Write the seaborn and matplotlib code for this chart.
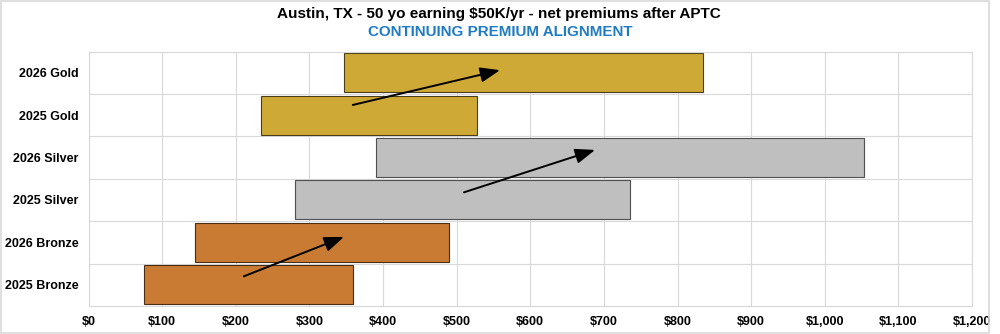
import matplotlib
matplotlib.use("Agg")
import matplotlib.pyplot as plt
from matplotlib.ticker import FuncFormatter, MultipleLocator, FixedLocator
from matplotlib.patches import Rectangle
import seaborn as sns
import pandas as pd

# Net monthly premium range (lowest to highest plan) per metal tier and year
plans = ["2026 Gold", "2025 Gold", "2026 Silver", "2025 Silver", "2026 Bronze", "2025 Bronze"]
low = [347, 234, 390, 281, 145, 75]
high = [834, 527, 1053, 736, 489, 359]
tier_colors = ["#CFA935", "#CFA935", "#BFBFBF", "#BFBFBF", "#C97B33", "#C97B33"]
tier_edges = ["#4A3D1A", "#4A3D1A", "#505050", "#505050", "#4A2E14", "#4A2E14"]

df = pd.DataFrame({"plan": plans, "low": low, "high": high})
df["span"] = df["high"] - df["low"]

sns.set_theme(style="white")
plt.rcParams["font.family"] = ["Liberation Sans", "DejaVu Sans"]

fig = plt.figure(figsize=(10, 3.34), dpi=100)
ax = fig.add_axes([0.0885, 0.0838, 0.8835, 0.762])

sns.barplot(data=df, x="span", y="plan", order=plans, left=df["low"].values,
            color=tier_colors[0], saturation=1, width=0.92, ax=ax,
            linewidth=0.8, zorder=2)
for patch, fc, ec in zip(ax.patches, tier_colors, tier_edges):
    patch.set_facecolor(fc)
    patch.set_edgecolor(ec)

ax.set_xlim(0, 1200)
ax.set_ylim(5.5, -0.5)
ax.xaxis.set_major_locator(MultipleLocator(100))
ax.xaxis.set_major_formatter(FuncFormatter(lambda v, _: f"${v:,.0f}"))
ax.yaxis.set_minor_locator(FixedLocator([i - 0.5 for i in range(len(plans) + 1)]))
ax.grid(axis="x", which="major", color="#D9D9D9", linewidth=0.8, zorder=0)
ax.grid(axis="y", which="minor", color="#D9D9D9", linewidth=0.8, zorder=0)
ax.grid(axis="y", which="major", visible=False)
ax.set_axisbelow(True)
for s in ax.spines.values():
    s.set_color("#D9D9D9")
    s.set_linewidth(0.8)
ax.tick_params(axis="both", which="both", length=0, labelsize=9, pad=7)
for lab in ax.get_xticklabels() + ax.get_yticklabels():
    lab.set_fontweight("bold")
    lab.set_color("black")
ax.set_xlabel("")
ax.set_ylabel("")

# Arrows showing the year-over-year shift of each tier
shifts = [((359, 0.76), (559, -0.06)),
          ((510, 2.82), (688, 1.82)),
          ((211, 4.80), (347, 3.87))]
for start, end in shifts:
    ax.annotate("", xy=end, xytext=start,
                arrowprops=dict(arrowstyle="-|>,head_length=1.0,head_width=0.38",
                                color="black", lw=1.4, shrinkA=0, shrinkB=0),
                zorder=5)

fig.text(0.4985, 0.958, "Austin, TX - 50 yo earning $50K/yr - net premiums after APTC",
         ha="center", va="center", fontsize=11, fontweight="bold", color="black")
fig.text(0.5005, 0.904, "CONTINUING PREMIUM ALIGNMENT",
         ha="center", va="center", fontsize=10.9, fontweight="bold", color="#1F7BC6")

fig.patches.append(Rectangle((0.001, 0.002), 0.988, 0.996, transform=fig.transFigure,
                             fill=False, edgecolor="#D9D9D9", linewidth=1.2))

fig.savefig("out.png", dpi=100)
